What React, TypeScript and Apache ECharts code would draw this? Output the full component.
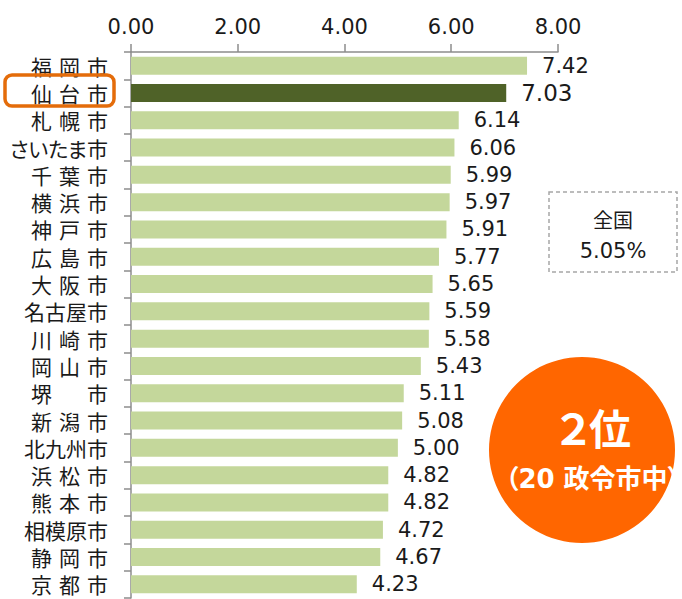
import React, { useEffect, useRef } from "react";
import * as echarts from "echarts";

const categories = [
  "福 岡 市", "仙 台 市", "札 幌 市", "さいたま市", "千 葉 市", "横 浜 市", "神 戸 市",
  "広 島 市", "大 阪 市", "名古屋市", "川 崎 市", "岡 山 市", "堺 　 市", "新 潟 市",
  "北九州市", "浜 松 市", "熊 本 市", "相模原市", "静 岡 市", "京 都 市",
];
const values = [
  7.42, 7.03, 6.14, 6.06, 5.99, 5.97, 5.91, 5.77, 5.65, 5.59,
  5.58, 5.43, 5.11, 5.08, 5.0, 4.82, 4.82, 4.72, 4.67, 4.23,
];
const xTicks = { min: 0, max: 8, interval: 2 };
const highlightCity = "仙 台 市";
const nationalLabel = "全国";
const nationalValue = "5.05%";
const rankText = "２位";
const rankSub = "（20 政令市中）";

const LIGHT = "#C4D79B";
const DARK = "#4F6228";
const TEXT = "#1a1a1a";
const AXIS = "#8c8c8c";
const NUM_FONT = "'DejaVu Sans', 'Noto Sans CJK JP', sans-serif";
const JP_FONT = "'Noto Sans CJK JP', sans-serif";

export default function App() {
  const ref = useRef<HTMLDivElement>(null);
  useEffect(() => {
    if (!ref.current) return;
    const chart = echarts.init(ref.current, undefined, { renderer: "svg" });
    const data = values.map((v, i) => {
      const hi = categories[i] === highlightCity;
      return {
        value: v,
        itemStyle: { color: hi ? DARK : LIGHT },
        label: hi ? { fontSize: 23 } : undefined,
      };
    });
    chart.setOption({
      animation: false,
      backgroundColor: "#ffffff",
      grid: { left: 124, right: 124, top: 52, bottom: 1, containLabel: false },
      xAxis: {
        type: "value",
        position: "top",
        min: xTicks.min,
        max: xTicks.max,
        interval: xTicks.interval,
        axisLine: { show: true, lineStyle: { color: AXIS, width: 1.5 } },
        axisTick: { show: true, inside: false, length: 8, lineStyle: { color: AXIS, width: 1.5 } },
        splitLine: { show: false },
        axisLabel: {
          formatter: (v: number) => v.toFixed(2),
          fontSize: 21,
          color: TEXT,
          fontFamily: NUM_FONT,
          margin: 15,
        },
      },
      yAxis: {
        type: "category",
        inverse: true,
        data: categories,
        axisLine: { show: true, lineStyle: { color: AXIS, width: 1.5 } },
        axisTick: { show: true, length: 7, lineStyle: { color: AXIS, width: 1.5 } },
        axisLabel: {
          fontSize: 21,
          color: TEXT,
          fontFamily: JP_FONT,
          margin: 23,
          formatter: (s: string) => s.replace(/ /g, "\u2004"),
        },
      },
      series: [
        {
          type: "bar",
          data,
          barCategoryGap: "34%",
          label: {
            show: true,
            position: "right",
            distance: 15,
            fontSize: 21,
            color: TEXT,
            fontFamily: NUM_FONT,
            formatter: (p: any) => Number(p.value).toFixed(2),
          },
        },
      ],
      graphic: [
        {
          type: "rect",
          shape: { x: 5, y: 75, width: 109, height: 31, r: 7 },
          style: { fill: "none", stroke: "#E46C0A", lineWidth: 3.5 },
          z: 100,
        },
        {
          type: "rect",
          shape: { x: 549, y: 192, width: 128, height: 80 },
          style: { fill: "#ffffff", stroke: "#A6A6A6", lineWidth: 1.5, lineDash: [4, 3] },
          z: 100,
        },
        {
          type: "text",
          x: 613,
          y: 219,
          style: { text: nationalLabel, fontSize: 20, fill: TEXT, fontFamily: JP_FONT, align: "center", verticalAlign: "middle" },
          z: 101,
        },
        {
          type: "text",
          x: 613,
          y: 251,
          style: { text: nationalValue, fontSize: 21, fill: TEXT, fontFamily: NUM_FONT, align: "center", verticalAlign: "middle" },
          z: 101,
        },
        {
          type: "circle",
          shape: { cx: 582, cy: 450, r: 93 },
          style: { fill: "#FF6600" },
          z: 100,
        },
        {
          type: "text",
          x: 594,
          y: 430,
          style: { text: rankText, fontSize: 42, fontWeight: "bold", fill: "#ffffff", fontFamily: NUM_FONT, align: "center", verticalAlign: "middle" },
          z: 101,
        },
        {
          type: "text",
          x: 593,
          y: 479,
          style: { text: rankSub, fontSize: 26, fontWeight: "bold", fill: "#ffffff", fontFamily: NUM_FONT, align: "center", verticalAlign: "middle" },
          z: 101,
        },
      ],
    });
    return () => chart.dispose();
  }, []);
  return (
    <div
      ref={ref}
      style={{
        position: "absolute",
        left: 0,
        top: 0,
        width: 682,
        height: 599,
        background: "#fff",
        fontFeatureSettings: '"palt"',
      }}
    />
  );
}
